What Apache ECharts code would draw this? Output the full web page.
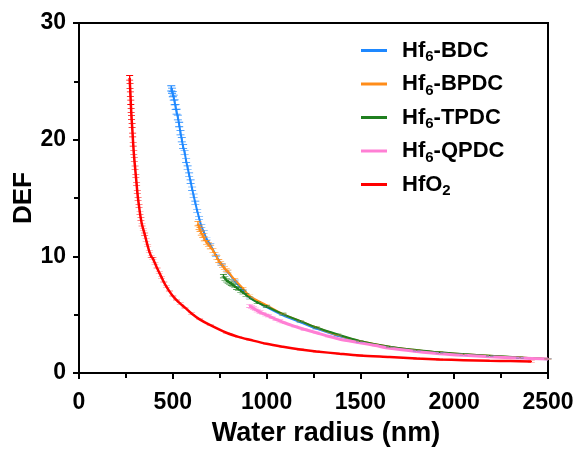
<!DOCTYPE html>
<html>
<head>
<meta charset="utf-8">
<script src="https://cdn.jsdelivr.net/npm/echarts@6/dist/echarts.min.js"></script>
<style>
  html, body { margin: 0; padding: 0; background: #fff; }
  #chart { width: 578px; height: 452px; }
</style>
</head>
<body>
<div id="chart"></div>
<script>
// [water radius (nm), DEF]
var bdc = [[492,24.4],[496,24.2],[500,23.9],[505,23.6],[510,23.2],[515,22.8],[520,22.4],[527,21.9],[534,21.3],[541,20.6],
  [548,20.0],[555,19.4],[563,18.9],[571,18.2],[579,17.6],[587,17.0],[595,16.4],[603,15.8],[611,15.2],[620,14.6],
  [630,13.9],[640,13.3],[652,12.6],[665,12.1],[680,11.5],[700,11.0],[730,10.1],[760,9.3],[790,8.7],[830,7.9],
  [874,7.1],[910,6.45],[1000,5.65],[1087,4.95],[1180,4.35],[1265,3.8],[1380,3.2],[1496,2.7],[1656,2.2],[1800,1.9],
  [1922,1.72],[2050,1.58],[2189,1.44],[2350,1.3],[2500,1.17]];
var bpdc = [[634,12.8],[640,12.5],[645,12.3],[652,12.0],[660,11.8],[668,11.5],[680,11.2],[690,11.0],[700,10.8],[714,10.5],
  [725,10.2],[735,9.9],[745,9.6],[755,9.4],[765,9.2],[775,9.0],[785,8.8],[794,8.7],[830,8.0],[874,7.25],
  [910,6.6],[1000,5.8],[1087,5.05],[1180,4.45],[1265,3.9],[1380,3.25],[1496,2.75],[1656,2.25],[1800,1.95],[1922,1.75],
  [2050,1.6],[2189,1.47],[2350,1.32],[2500,1.2]];
var tpdc = [[770,8.3],[778,8.1],[786,7.95],[795,7.85],[803,7.75],[812,7.65],[820,7.55],[830,7.45],[840,7.3],[850,7.2],
  [862,7.05],[874,6.9],[890,6.7],[910,6.45],[950,6.05],[1000,5.7],[1087,5.05],[1180,4.45],[1265,3.9],[1380,3.3],
  [1496,2.75],[1656,2.25],[1800,1.97],[1922,1.77],[2050,1.62],[2189,1.48],[2350,1.33],[2500,1.2]];
var qpdc = [[910,5.75],[920,5.65],[930,5.55],[940,5.45],[950,5.35],[965,5.22],[980,5.1],[995,5.0],[1010,4.9],[1030,4.75],
  [1050,4.6],[1070,4.47],[1087,4.35],[1150,4.0],[1200,3.75],[1265,3.45],[1330,3.15],[1390,2.9],[1496,2.6],[1580,2.35],
  [1656,2.12],[1800,1.85],[1922,1.66],[2050,1.52],[2189,1.4],[2350,1.28],[2500,1.2]];
var hfo2 = [[270,25.3],[272,24.6],[274,23.9],[276,23.2],[278,22.5],[280,21.9],[283,21.2],[286,20.4],[289,19.6],[292,18.9],
  [295,18.3],[299,17.6],[303,16.9],[307,16.2],[311,15.5],[315,14.9],[320,14.3],[325,13.7],[330,13.2],[336,12.7],
  [343,12.3],[350,11.9],[358,11.4],[366,10.9],[375,10.4],[385,10.0],[394,9.8],[405,9.4],[416,9.0],[428,8.6],
  [440,8.2],[452,7.8],[466,7.4],[482,7.0],[500,6.6],[520,6.25],[540,5.95],[565,5.6],[600,5.1],[643,4.6],
  [700,4.1],[786,3.45],[850,3.1],[910,2.85],[1000,2.5],[1087,2.25],[1180,2.02],[1265,1.85],[1390,1.65],[1496,1.5],
  [1656,1.37],[1800,1.25],[1922,1.16],[2050,1.1],[2189,1.05],[2300,1.02],[2411,0.99]];

var names = ['Hf{s|6}-BDC', 'Hf{s|6}-BPDC', 'Hf{s|6}-TPDC', 'Hf{s|6}-QPDC', 'HfO{s|2}'];
var colors = ['#1e88ff', '#ff8c19', '#1f7f1f', '#ff7fd4', '#ff0000'];
var xTicks = [0, 500, 1000, 1500, 2000, 2500];
var yTicks = [0, 10, 20, 30];

var errBar = 'path://M0,0H8V1.5H4.75V8.5H8V10H0V8.5H3.25V1.5H0Z';

function mkSeries(idx, data, w, k, lw) {
  return {
    name: names[idx],
    type: 'line',
    data: data,
    smooth: 0.3,
    showAllSymbol: true,
    symbol: errBar,
    symbolKeepAspect: false,
    symbolSize: function (v) { return [w, Math.max(1.5, v[1] * k)]; },
    itemStyle: { color: colors[idx] },
    lineStyle: { color: colors[idx], width: lw },
    emphasis: { disabled: true }
  };
}

var chart = echarts.init(document.getElementById('chart'));
var fontFam = 'Liberation Sans, Arial, Helvetica, sans-serif';

chart.setOption({
  animation: false,
  grid: { left: 79, right: 30, top: 23, bottom: 79, outerBoundsMode: 'none', containLabel: false,
    show: true, borderColor: '#000', borderWidth: 2, backgroundColor: 'transparent' },
  legend: {
    left: 356, top: 33, orient: 'vertical',
    icon: 'rect', itemWidth: 26, itemHeight: 3, itemGap: 7,
    data: names,
    textStyle: {
      fontFamily: fontFam, fontWeight: 'bold', fontSize: 22, color: '#000',
      lineHeight: 25, padding: [0, 0, 0, 10],
      rich: { s: { fontFamily: fontFam, fontWeight: 'bold', fontSize: 15, padding: [13, 0, 0, 0] } }
    }
  },
  xAxis: {
    type: 'value', min: 0, max: 2500, interval: 500,
    name: 'Water radius (nm)', nameLocation: 'middle', nameGap: 47, nameMoveOverlap: false,
    nameTextStyle: { fontFamily: fontFam, fontWeight: 'bold', fontSize: 27, color: '#000', padding: [0, 0, 0, 25] },
    axisLine: { onZero: false, lineStyle: { color: '#000', width: 2 } },
    axisTick: { length: 6, lineStyle: { color: '#000', width: 2 } },
    minorTick: { show: true, splitNumber: 2, length: 5, lineStyle: { color: '#000', width: 2 } },
    axisLabel: { margin: 18, fontFamily: fontFam, fontWeight: 'bold', fontSize: 23, color: '#000',
      formatter: function (v) { return xTicks.indexOf(v) >= 0 ? String(v) : ''; } },
    splitLine: { show: false }
  },
  yAxis: {
    type: 'value', min: 0, max: 30, interval: 10,
    name: 'DEF', nameLocation: 'middle', nameGap: 42, nameMoveOverlap: false,
    nameTextStyle: { fontFamily: fontFam, fontWeight: 'bold', fontSize: 26, color: '#000' },
    axisLine: { onZero: false, lineStyle: { color: '#000', width: 2 } },
    axisTick: { length: 6, lineStyle: { color: '#000', width: 2 } },
    minorTick: { show: true, splitNumber: 2, length: 5, lineStyle: { color: '#000', width: 2 } },
    axisLabel: { margin: 13, fontFamily: fontFam, fontWeight: 'bold', fontSize: 23, color: '#000',
      formatter: function (v) { return yTicks.indexOf(v) >= 0 ? String(v) : ''; } },
    splitLine: { show: false }
  },
  series: [
    mkSeries(0, bdc, 8, 0.25, 2),
    mkSeries(1, bpdc, 7, 0.4, 2),
    mkSeries(2, tpdc, 7, 0.5, 2),
    mkSeries(3, qpdc, 7, 0.6, 3),
    mkSeries(4, hfo2, 7, 0.22, 2.5)
  ]
});
</script>
</body>
</html>
